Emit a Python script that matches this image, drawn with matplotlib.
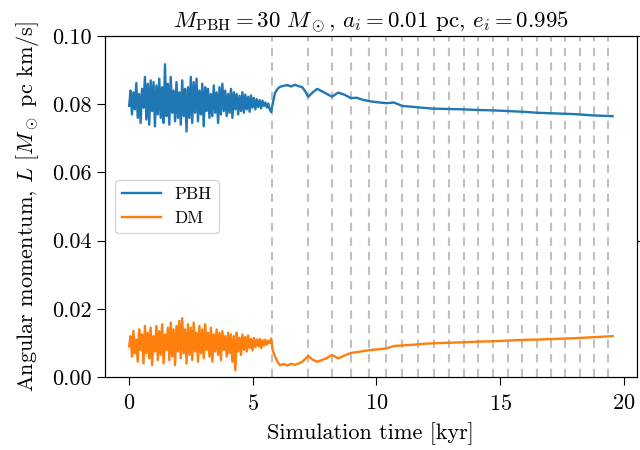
import numpy as np
import matplotlib
matplotlib.use("Agg")
import matplotlib.pyplot as plt

plt.rcParams["font.family"] = "serif"
plt.rcParams["font.serif"] = ["cmr10"]
plt.rcParams["mathtext.fontset"] = "cm"
plt.rcParams["axes.formatter.use_mathtext"] = True

# Noisy phase (before first snapshot), sampled every 0.058 kyr
t_noise = np.arange(100) * 0.058
pbh_noise = [
    0.0795, 0.0840, 0.0770, 0.0835, 0.0785, 0.0862, 0.0760, 0.0830, 0.0745, 0.0845,
    0.0790, 0.0880, 0.0755, 0.0860, 0.0740, 0.0870, 0.0780, 0.0865, 0.0735, 0.0855,
    0.0770, 0.0875, 0.0760, 0.0850, 0.0745, 0.0917, 0.0765, 0.0860, 0.0740, 0.0880,
    0.0775, 0.0840, 0.0750, 0.0865, 0.0760, 0.0835, 0.0740, 0.0870, 0.0765, 0.0845,
    0.0720, 0.0850, 0.0760, 0.0880, 0.0745, 0.0865, 0.0775, 0.0875, 0.0750, 0.0840,
    0.0770, 0.0860, 0.0735, 0.0850, 0.0780, 0.0845, 0.0760, 0.0830, 0.0765, 0.0855,
    0.0775, 0.0835, 0.0745, 0.0850, 0.0770, 0.0860, 0.0780, 0.0840, 0.0765, 0.0830,
    0.0775, 0.0845, 0.0760, 0.0835, 0.0785, 0.0830, 0.0770, 0.0825, 0.0780, 0.0835,
    0.0775, 0.0828, 0.0785, 0.0822, 0.0778, 0.0826, 0.0790, 0.0818, 0.0785, 0.0815,
    0.0792, 0.0812, 0.0788, 0.0810, 0.0795, 0.0805, 0.0790, 0.0802, 0.0785, 0.0777,
]
dm_noise = [
    0.0090, 0.0120, 0.0060, 0.0135, 0.0070, 0.0110, 0.0045, 0.0140, 0.0080, 0.0125,
    0.0040, 0.0150, 0.0070, 0.0130, 0.0055, 0.0145, 0.0035, 0.0120, 0.0075, 0.0150,
    0.0050, 0.0135, 0.0065, 0.0155, 0.0040, 0.0125, 0.0080, 0.0145, 0.0050, 0.0160,
    0.0060, 0.0140, 0.0035, 0.0150, 0.0075, 0.0165, 0.0055, 0.0173, 0.0070, 0.0140,
    0.0040, 0.0155, 0.0065, 0.0145, 0.0050, 0.0160, 0.0075, 0.0130, 0.0045, 0.0150,
    0.0070, 0.0140, 0.0055, 0.0155, 0.0080, 0.0130, 0.0060, 0.0145, 0.0045, 0.0125,
    0.0075, 0.0140, 0.0065, 0.0130, 0.0050, 0.0135, 0.0080, 0.0120, 0.0060, 0.0130,
    0.0070, 0.0125, 0.0045, 0.0120, 0.0020, 0.0130, 0.0075, 0.0115, 0.0065, 0.0125,
    0.0080, 0.0118, 0.0075, 0.0122, 0.0085, 0.0112, 0.0078, 0.0115, 0.0088, 0.0110,
    0.0090, 0.0112, 0.0085, 0.0108, 0.0092, 0.0110, 0.0095, 0.0106, 0.0100, 0.0113,
]

# Smooth phase (after first snapshot)
t_tail = [5.80, 5.90, 6.00, 6.10, 6.25, 6.40, 6.55, 6.70, 6.85, 7.00,
          7.10, 7.24, 7.40, 7.60, 7.80, 8.00, 8.20, 8.45, 8.70, 8.97,
          9.20, 9.45, 9.70, 10.0, 10.4, 10.7, 11.05, 11.5, 12.0, 12.3,
          13.0, 13.5, 14.1, 14.7, 15.3, 15.9, 16.5, 17.2, 18.0, 18.8, 19.55]
pbh_tail = [0.0800, 0.0833, 0.0845, 0.0851, 0.0854, 0.0856, 0.0852, 0.0857, 0.0853, 0.0850,
            0.0840, 0.0822, 0.0833, 0.0845, 0.0838, 0.0830, 0.0822, 0.0834, 0.0828, 0.0818,
            0.0819, 0.0813, 0.0809, 0.0806, 0.0803, 0.0805, 0.0795, 0.0792, 0.0789, 0.0787,
            0.0786, 0.0785, 0.0783, 0.0782, 0.0780, 0.0778, 0.0775, 0.0773, 0.0771, 0.0767, 0.0765]
dm_tail = [0.0080, 0.0060, 0.0045, 0.0035, 0.0038, 0.0034, 0.0039, 0.0036, 0.0040, 0.0045,
           0.0052, 0.0062, 0.0052, 0.0045, 0.0050, 0.0056, 0.0065, 0.0055, 0.0063, 0.0071,
           0.0073, 0.0076, 0.0079, 0.0081, 0.0084, 0.0091, 0.0093, 0.0095, 0.0098, 0.0099,
           0.0101, 0.0102, 0.0104, 0.0105, 0.0107, 0.0109, 0.0110, 0.0112, 0.0114, 0.0117, 0.0120]

# Snapshot times [kyr]
snapshots = [5.76, 7.24, 8.19, 8.97, 9.70, 10.38, 11.05, 11.68, 12.31, 12.92, 13.53,
             14.12, 14.72, 15.32, 15.90, 16.48, 17.06, 17.63, 18.22, 18.78, 19.35]

t = np.concatenate([t_noise, t_tail])
pbh = np.concatenate([pbh_noise, pbh_tail])
dm = np.concatenate([dm_noise, dm_tail])

fig, ax = plt.subplots(figsize=(6.4, 4.5), dpi=100)
fig.subplots_adjust(left=0.164, right=0.995, top=0.92, bottom=0.162)

for s in snapshots:
    ax.axvline(s, color="#c0c0c0", ls=(0, (4, 3)), lw=1.5, zorder=1)

ax.plot(t, pbh, color="#1f77b4", lw=1.7, label="PBH", zorder=3)
ax.plot(t, dm, color="#ff7f0e", lw=1.7, label="DM", zorder=3)

ax.set_ylim(0, 0.10)
ax.set_xticks([0, 5, 10, 15, 20])
ax.set_yticks([0.0, 0.02, 0.04, 0.06, 0.08, 0.10])
ax.set_yticklabels(["0.00", "0.02", "0.04", "0.06", "0.08", "0.10"])
ax.tick_params(labelsize=16, length=6)
ax.tick_params(axis="x", pad=6)
ax.set_xlabel("Simulation time [kyr]", fontsize=16, labelpad=6)
ax.set_ylabel(r"Angular momentum, $L$ [$M_\odot$ pc km/s]", fontsize=16, labelpad=8)
ax.set_title(r"$M_{\rm PBH} = 30~M_\odot$, $a_i = 0.01$ pc, $e_i = 0.995$", fontsize=16.5)
leg = ax.legend(loc="center left", fontsize=12.5, handlelength=2.2, borderaxespad=0.6)

ax2 = ax.twinx()
ax2.set_ylim(0, 0.10)
ax2.set_yticks([0.04, 0.10])
ax2.set_yticklabels([])
ax2.tick_params(length=6)

fig.savefig("out.png", dpi=100)
